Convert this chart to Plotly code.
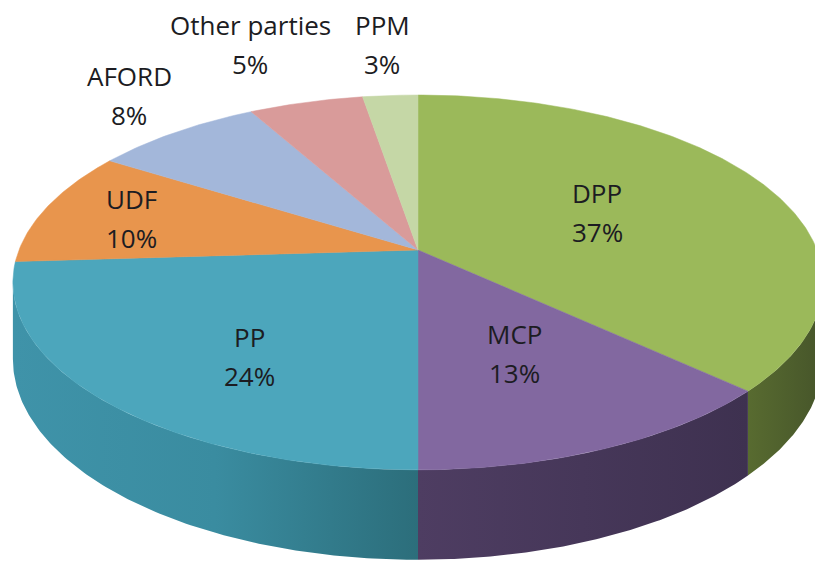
import numpy as np
import plotly.graph_objects as go

# ---- data ----
parties = ["DPP", "MCP", "PP", "UDF", "AFORD", "Other parties", "PPM"]
shares = [37.0, 13.0, 24.0, 10.0, 8.0, 5.4, 2.6]
pct_labels = [f"{round(v):d}%" for v in shares]

# ---- styles ----
top_colors = ["#9BB95A", "#8268A0", "#4CA6BC", "#E8954D", "#A3B7DA", "#D99B9A", "#C5D7A6"]
side_grad = {
    "DPP": ["#586B30", "#46552A"],
    "MCP": ["#4E3D62", "#3E3150"],
    "PP": ["#3F93A9", "#3A8CA0", "#2C6E7B"],
}
label_pos = [(597, 193), (514, 334), (249, 337), (131, 199), (129, 76), (250, 25), (382, 25)]
line_gap = 38.5

# ---- projection (perspective-tilted disc) ----
CX, CY = 418.0, 250.0
S, SK, P, T = 399.0, 181.8, 0.173, 74.4


def proj(theta):
    u, v = np.sin(theta), np.cos(theta)
    w = 1 + P * v
    return CX + S * u / w, CY - SK * v / w, w


fig = go.Figure()

total = sum(shares)
bounds = np.concatenate([[0], np.cumsum(shares)]) / total * 2 * np.pi
vis0 = np.arccos(-P)
vis1 = 2 * np.pi - vis0

# side faces
for i, name in enumerate(parties):
    a, b = bounds[i], bounds[i + 1]
    lo, hi = max(a, vis0), min(b, vis1)
    if hi <= lo:
        continue
    th = np.linspace(lo, hi, 120)
    x, y, w = proj(th)
    yb = y + T / w
    xs = np.concatenate([x, x[::-1], x[:1]])
    ys = np.concatenate([y, yb[::-1], y[:1]])
    cols = side_grad.get(name, ["#555555", "#333333"])
    n = len(cols)
    cs = [[k / (n - 1), c] for k, c in enumerate(cols)]
    fig.add_trace(go.Scatter(
        x=xs, y=ys, mode="lines", fill="toself",
        line=dict(width=0, color=cols[0]),
        fillgradient=dict(type="horizontal", colorscale=cs),
        hoverinfo="skip", showlegend=False))

# top faces
for i, name in enumerate(parties):
    a, b = bounds[i], bounds[i + 1]
    th = np.linspace(a, b, max(20, int((b - a) * 80)))
    x, y, _ = proj(th)
    xs = np.concatenate([[CX], x, [CX]])
    ys = np.concatenate([[CY], y, [CY]])
    fig.add_trace(go.Scatter(
        x=xs, y=ys, mode="lines", fill="toself",
        fillcolor=top_colors[i], line=dict(width=0.5, color=top_colors[i]),
        name=name, hoverinfo="name", showlegend=False))

font = dict(family="'Open Sans', Lato, sans-serif", size=26, color="#1c1c22")
for i, name in enumerate(parties):
    lx, ly = label_pos[i]
    fig.add_annotation(x=lx, y=ly, text=name, showarrow=False, font=font,
                       xanchor="center", yanchor="middle")
    fig.add_annotation(x=lx, y=ly + line_gap, text=pct_labels[i], showarrow=False, font=font,
                       xanchor="center", yanchor="middle")

fig.update_layout(
    width=815, height=564,
    margin=dict(l=0, r=0, t=0, b=0),
    paper_bgcolor="white", plot_bgcolor="white",
    xaxis=dict(range=[0, 815], visible=False, fixedrange=True),
    yaxis=dict(range=[564, 0], visible=False, fixedrange=True),
    showlegend=False,
)
fig.write_html("out.html", config={"displayModeBar": False},
               post_script="document.body.style.margin='0px';document.body.style.overflow='hidden';")
